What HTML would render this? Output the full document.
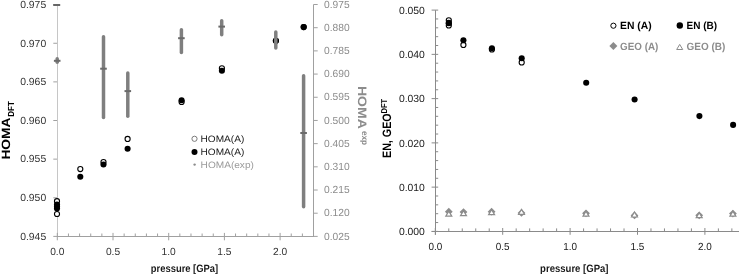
<!DOCTYPE html>
<html><head><meta charset="utf-8"><style>
html,body{margin:0;padding:0;background:#fff;}
body{width:739px;height:274px;overflow:hidden;}
svg{display:block;font-family:"Liberation Sans", sans-serif;filter:grayscale(1);text-rendering:geometricPrecision;}
</style></head><body>
<svg width="739" height="274" viewBox="0 0 739 274">
<rect width="739" height="274" fill="#fff"/>
<line x1="57.50" y1="4.50" x2="57.50" y2="236.50" stroke="#c6c6c6" stroke-width="1" stroke-linecap="butt"/>
<line x1="313.50" y1="4.50" x2="313.50" y2="236.50" stroke="#a0a0a0" stroke-width="1" stroke-linecap="butt"/>
<line x1="57.00" y1="236.50" x2="314.00" y2="236.50" stroke="#a0a0a0" stroke-width="1" stroke-linecap="butt"/>
<line x1="53.30" y1="236.40" x2="57.00" y2="236.40" stroke="#a0a0a0" stroke-width="1" stroke-linecap="butt"/>
<text x="46.20" y="239.70" font-size="10.3" fill="#333333" text-anchor="end" textLength="26.00" lengthAdjust="spacingAndGlyphs">0.945</text>
<line x1="53.30" y1="197.77" x2="57.00" y2="197.77" stroke="#a0a0a0" stroke-width="1" stroke-linecap="butt"/>
<text x="46.20" y="201.07" font-size="10.3" fill="#333333" text-anchor="end" textLength="26.00" lengthAdjust="spacingAndGlyphs">0.950</text>
<line x1="53.30" y1="159.14" x2="57.00" y2="159.14" stroke="#a0a0a0" stroke-width="1" stroke-linecap="butt"/>
<text x="46.20" y="162.44" font-size="10.3" fill="#333333" text-anchor="end" textLength="26.00" lengthAdjust="spacingAndGlyphs">0.955</text>
<line x1="53.30" y1="120.51" x2="57.00" y2="120.51" stroke="#a0a0a0" stroke-width="1" stroke-linecap="butt"/>
<text x="46.20" y="123.81" font-size="10.3" fill="#333333" text-anchor="end" textLength="26.00" lengthAdjust="spacingAndGlyphs">0.960</text>
<line x1="53.30" y1="81.88" x2="57.00" y2="81.88" stroke="#a0a0a0" stroke-width="1" stroke-linecap="butt"/>
<text x="46.20" y="85.18" font-size="10.3" fill="#333333" text-anchor="end" textLength="26.00" lengthAdjust="spacingAndGlyphs">0.965</text>
<line x1="53.30" y1="43.25" x2="57.00" y2="43.25" stroke="#a0a0a0" stroke-width="1" stroke-linecap="butt"/>
<text x="46.20" y="46.55" font-size="10.3" fill="#333333" text-anchor="end" textLength="26.00" lengthAdjust="spacingAndGlyphs">0.970</text>
<line x1="53.30" y1="4.62" x2="57.00" y2="4.62" stroke="#a0a0a0" stroke-width="1" stroke-linecap="butt"/>
<text x="46.20" y="7.92" font-size="10.3" fill="#333333" text-anchor="end" textLength="26.00" lengthAdjust="spacingAndGlyphs">0.975</text>
<line x1="313.50" y1="236.40" x2="317.70" y2="236.40" stroke="#a0a0a0" stroke-width="1" stroke-linecap="butt"/>
<text x="324.10" y="239.60" font-size="10.3" fill="#8c8c8c" text-anchor="start" textLength="25.60" lengthAdjust="spacingAndGlyphs">0.025</text>
<line x1="313.50" y1="213.21" x2="317.70" y2="213.21" stroke="#a0a0a0" stroke-width="1" stroke-linecap="butt"/>
<text x="324.10" y="216.41" font-size="10.3" fill="#8c8c8c" text-anchor="start" textLength="25.60" lengthAdjust="spacingAndGlyphs">0.120</text>
<line x1="313.50" y1="190.02" x2="317.70" y2="190.02" stroke="#a0a0a0" stroke-width="1" stroke-linecap="butt"/>
<text x="324.10" y="193.22" font-size="10.3" fill="#8c8c8c" text-anchor="start" textLength="25.60" lengthAdjust="spacingAndGlyphs">0.215</text>
<line x1="313.50" y1="166.83" x2="317.70" y2="166.83" stroke="#a0a0a0" stroke-width="1" stroke-linecap="butt"/>
<text x="324.10" y="170.03" font-size="10.3" fill="#8c8c8c" text-anchor="start" textLength="25.60" lengthAdjust="spacingAndGlyphs">0.310</text>
<line x1="313.50" y1="143.64" x2="317.70" y2="143.64" stroke="#a0a0a0" stroke-width="1" stroke-linecap="butt"/>
<text x="324.10" y="146.84" font-size="10.3" fill="#8c8c8c" text-anchor="start" textLength="25.60" lengthAdjust="spacingAndGlyphs">0.405</text>
<line x1="313.50" y1="120.45" x2="317.70" y2="120.45" stroke="#a0a0a0" stroke-width="1" stroke-linecap="butt"/>
<text x="324.10" y="123.65" font-size="10.3" fill="#8c8c8c" text-anchor="start" textLength="25.60" lengthAdjust="spacingAndGlyphs">0.500</text>
<line x1="313.50" y1="97.26" x2="317.70" y2="97.26" stroke="#a0a0a0" stroke-width="1" stroke-linecap="butt"/>
<text x="324.10" y="100.46" font-size="10.3" fill="#8c8c8c" text-anchor="start" textLength="25.60" lengthAdjust="spacingAndGlyphs">0.595</text>
<line x1="313.50" y1="74.07" x2="317.70" y2="74.07" stroke="#a0a0a0" stroke-width="1" stroke-linecap="butt"/>
<text x="324.10" y="77.27" font-size="10.3" fill="#8c8c8c" text-anchor="start" textLength="25.60" lengthAdjust="spacingAndGlyphs">0.690</text>
<line x1="313.50" y1="50.88" x2="317.70" y2="50.88" stroke="#a0a0a0" stroke-width="1" stroke-linecap="butt"/>
<text x="324.10" y="54.08" font-size="10.3" fill="#8c8c8c" text-anchor="start" textLength="25.60" lengthAdjust="spacingAndGlyphs">0.785</text>
<line x1="313.50" y1="27.69" x2="317.70" y2="27.69" stroke="#a0a0a0" stroke-width="1" stroke-linecap="butt"/>
<text x="324.10" y="30.89" font-size="10.3" fill="#8c8c8c" text-anchor="start" textLength="25.60" lengthAdjust="spacingAndGlyphs">0.880</text>
<line x1="313.50" y1="4.50" x2="317.70" y2="4.50" stroke="#a0a0a0" stroke-width="1" stroke-linecap="butt"/>
<text x="324.10" y="7.70" font-size="10.3" fill="#8c8c8c" text-anchor="start" textLength="25.60" lengthAdjust="spacingAndGlyphs">0.975</text>
<line x1="57.30" y1="232.90" x2="57.30" y2="240.30" stroke="#a0a0a0" stroke-width="1" stroke-linecap="butt"/>
<text x="57.30" y="254.70" font-size="10.3" fill="#333333" text-anchor="middle" textLength="14.20" lengthAdjust="spacingAndGlyphs">0.0</text>
<line x1="68.44" y1="233.50" x2="68.44" y2="236.50" stroke="#a0a0a0" stroke-width="1" stroke-linecap="butt"/>
<line x1="79.58" y1="233.50" x2="79.58" y2="236.50" stroke="#a0a0a0" stroke-width="1" stroke-linecap="butt"/>
<line x1="90.72" y1="233.50" x2="90.72" y2="236.50" stroke="#a0a0a0" stroke-width="1" stroke-linecap="butt"/>
<line x1="101.86" y1="233.50" x2="101.86" y2="236.50" stroke="#a0a0a0" stroke-width="1" stroke-linecap="butt"/>
<line x1="113.00" y1="232.90" x2="113.00" y2="240.30" stroke="#a0a0a0" stroke-width="1" stroke-linecap="butt"/>
<text x="113.00" y="254.70" font-size="10.3" fill="#333333" text-anchor="middle" textLength="14.20" lengthAdjust="spacingAndGlyphs">0.5</text>
<line x1="124.14" y1="233.50" x2="124.14" y2="236.50" stroke="#a0a0a0" stroke-width="1" stroke-linecap="butt"/>
<line x1="135.28" y1="233.50" x2="135.28" y2="236.50" stroke="#a0a0a0" stroke-width="1" stroke-linecap="butt"/>
<line x1="146.42" y1="233.50" x2="146.42" y2="236.50" stroke="#a0a0a0" stroke-width="1" stroke-linecap="butt"/>
<line x1="157.56" y1="233.50" x2="157.56" y2="236.50" stroke="#a0a0a0" stroke-width="1" stroke-linecap="butt"/>
<line x1="168.70" y1="232.90" x2="168.70" y2="240.30" stroke="#a0a0a0" stroke-width="1" stroke-linecap="butt"/>
<text x="168.70" y="254.70" font-size="10.3" fill="#333333" text-anchor="middle" textLength="14.20" lengthAdjust="spacingAndGlyphs">1.0</text>
<line x1="179.84" y1="233.50" x2="179.84" y2="236.50" stroke="#a0a0a0" stroke-width="1" stroke-linecap="butt"/>
<line x1="190.98" y1="233.50" x2="190.98" y2="236.50" stroke="#a0a0a0" stroke-width="1" stroke-linecap="butt"/>
<line x1="202.12" y1="233.50" x2="202.12" y2="236.50" stroke="#a0a0a0" stroke-width="1" stroke-linecap="butt"/>
<line x1="213.26" y1="233.50" x2="213.26" y2="236.50" stroke="#a0a0a0" stroke-width="1" stroke-linecap="butt"/>
<line x1="224.40" y1="232.90" x2="224.40" y2="240.30" stroke="#a0a0a0" stroke-width="1" stroke-linecap="butt"/>
<text x="224.40" y="254.70" font-size="10.3" fill="#333333" text-anchor="middle" textLength="14.20" lengthAdjust="spacingAndGlyphs">1.5</text>
<line x1="235.54" y1="233.50" x2="235.54" y2="236.50" stroke="#a0a0a0" stroke-width="1" stroke-linecap="butt"/>
<line x1="246.68" y1="233.50" x2="246.68" y2="236.50" stroke="#a0a0a0" stroke-width="1" stroke-linecap="butt"/>
<line x1="257.82" y1="233.50" x2="257.82" y2="236.50" stroke="#a0a0a0" stroke-width="1" stroke-linecap="butt"/>
<line x1="268.96" y1="233.50" x2="268.96" y2="236.50" stroke="#a0a0a0" stroke-width="1" stroke-linecap="butt"/>
<line x1="280.10" y1="232.90" x2="280.10" y2="240.30" stroke="#a0a0a0" stroke-width="1" stroke-linecap="butt"/>
<text x="280.10" y="254.70" font-size="10.3" fill="#333333" text-anchor="middle" textLength="14.20" lengthAdjust="spacingAndGlyphs">2.0</text>
<line x1="291.24" y1="233.50" x2="291.24" y2="236.50" stroke="#a0a0a0" stroke-width="1" stroke-linecap="butt"/>
<line x1="302.38" y1="233.50" x2="302.38" y2="236.50" stroke="#a0a0a0" stroke-width="1" stroke-linecap="butt"/>
<line x1="313.52" y1="233.50" x2="313.52" y2="236.50" stroke="#a0a0a0" stroke-width="1" stroke-linecap="butt"/>
<circle cx="57.0" cy="201.2" r="2.55" fill="#fff" stroke="#000" stroke-width="1.1"/>
<circle cx="57.0" cy="214.0" r="2.55" fill="#fff" stroke="#000" stroke-width="1.1"/>
<circle cx="80.3" cy="169.1" r="2.55" fill="#fff" stroke="#000" stroke-width="1.1"/>
<circle cx="103.5" cy="162.0" r="2.55" fill="#fff" stroke="#000" stroke-width="1.1"/>
<circle cx="127.6" cy="138.9" r="2.55" fill="#fff" stroke="#000" stroke-width="1.1"/>
<circle cx="181.6" cy="102.0" r="2.55" fill="#fff" stroke="#000" stroke-width="1.1"/>
<circle cx="221.9" cy="68.3" r="2.55" fill="#fff" stroke="#000" stroke-width="1.1"/>
<circle cx="275.9" cy="40.8" r="2.55" fill="#fff" stroke="#000" stroke-width="1.1"/>
<circle cx="303.7" cy="27.1" r="2.55" fill="#fff" stroke="#000" stroke-width="1.1"/>
<circle cx="57.0" cy="204.5" r="3.05" fill="#000"/>
<circle cx="57.0" cy="206.5" r="3.05" fill="#000"/>
<circle cx="57.0" cy="208.5" r="3.05" fill="#000"/>
<circle cx="80.3" cy="176.7" r="3.05" fill="#000"/>
<circle cx="103.5" cy="164.5" r="3.05" fill="#000"/>
<circle cx="127.6" cy="148.8" r="3.05" fill="#000"/>
<circle cx="181.6" cy="100.3" r="3.05" fill="#000"/>
<circle cx="221.9" cy="70.8" r="3.05" fill="#000"/>
<circle cx="275.9" cy="40.8" r="3.05" fill="#000"/>
<circle cx="303.7" cy="27.1" r="3.05" fill="#000"/>
<line x1="57.20" y1="58.75" x2="57.20" y2="62.25" stroke="#7f7f7f" stroke-width="3.5" stroke-linecap="round"/>
<line x1="53.90" y1="60.80" x2="60.50" y2="60.80" stroke="#6a6a6a" stroke-width="2" stroke-linecap="butt"/>
<line x1="103.50" y1="36.75" x2="103.50" y2="117.45" stroke="#7f7f7f" stroke-width="3.5" stroke-linecap="round"/>
<line x1="100.20" y1="68.70" x2="106.80" y2="68.70" stroke="#6a6a6a" stroke-width="2" stroke-linecap="butt"/>
<line x1="127.80" y1="73.05" x2="127.80" y2="116.15" stroke="#7f7f7f" stroke-width="3.5" stroke-linecap="round"/>
<line x1="124.50" y1="91.10" x2="131.10" y2="91.10" stroke="#6a6a6a" stroke-width="2" stroke-linecap="butt"/>
<line x1="181.40" y1="29.75" x2="181.40" y2="52.55" stroke="#7f7f7f" stroke-width="3.5" stroke-linecap="round"/>
<line x1="178.10" y1="38.20" x2="184.70" y2="38.20" stroke="#6a6a6a" stroke-width="2" stroke-linecap="butt"/>
<line x1="221.70" y1="20.65" x2="221.70" y2="34.65" stroke="#7f7f7f" stroke-width="3.5" stroke-linecap="round"/>
<line x1="218.40" y1="26.60" x2="225.00" y2="26.60" stroke="#6a6a6a" stroke-width="2" stroke-linecap="butt"/>
<line x1="275.80" y1="31.95" x2="275.80" y2="48.05" stroke="#7f7f7f" stroke-width="3.5" stroke-linecap="round"/>
<line x1="303.60" y1="75.85" x2="303.60" y2="206.75" stroke="#7f7f7f" stroke-width="3.5" stroke-linecap="round"/>
<line x1="300.30" y1="133.00" x2="306.90" y2="133.00" stroke="#6a6a6a" stroke-width="2" stroke-linecap="butt"/>
<line x1="53.20" y1="5.00" x2="60.20" y2="5.00" stroke="#666" stroke-width="2" stroke-linecap="butt"/>
<circle cx="194.5" cy="138.8" r="2.6" fill="#fff" stroke="#7a7a7a" stroke-width="1"/>
<text x="200.60" y="142.20" font-size="9.3" fill="#1a1a1a" text-anchor="start" textLength="43.70" lengthAdjust="spacingAndGlyphs">HOMA(A)</text>
<circle cx="194.5" cy="151.9" r="3.0" fill="#000"/>
<text x="200.60" y="155.40" font-size="9.3" fill="#1a1a1a" text-anchor="start" textLength="43.70" lengthAdjust="spacingAndGlyphs">HOMA(A)</text>
<circle cx="194.6" cy="164.6" r="1.2" fill="#8c8c8c"/>
<text x="200.60" y="168.00" font-size="9.3" fill="#9a9a9a" text-anchor="start" textLength="53.30" lengthAdjust="spacingAndGlyphs">HOMA(exp)</text>
<text transform="translate(9.8,159.6) rotate(-90)" font-size="12" font-weight="bold" fill="#000"><tspan textLength="42.2" lengthAdjust="spacingAndGlyphs">HOMA</tspan></text>
<text transform="translate(13.7,116.8) rotate(-90)" font-size="8.8" font-weight="bold" fill="#000" textLength="15.6" lengthAdjust="spacingAndGlyphs">DFT</text>
<text transform="translate(357.6,85.9) rotate(90)" font-size="12.2" font-weight="bold" fill="#8c8c8c" textLength="43.0" lengthAdjust="spacingAndGlyphs">HOMA</text>
<text transform="translate(362.4,130.9) rotate(90)" font-size="8.5" font-weight="bold" fill="#8c8c8c" textLength="14.2" lengthAdjust="spacingAndGlyphs">exp</text>
<text x="150.80" y="271.60" font-size="10.6" fill="#1a1a1a" text-anchor="start" font-weight="bold" textLength="67.40" lengthAdjust="spacingAndGlyphs">pressure [GPa]</text>
<line x1="435.50" y1="10.20" x2="435.50" y2="234.80" stroke="#8a8a8a" stroke-width="1" stroke-linecap="butt"/>
<line x1="431.60" y1="231.50" x2="739.00" y2="231.50" stroke="#8a8a8a" stroke-width="1" stroke-linecap="butt"/>
<line x1="431.60" y1="231.40" x2="438.20" y2="231.40" stroke="#8a8a8a" stroke-width="1" stroke-linecap="butt"/>
<text x="424.90" y="235.10" font-size="10.4" fill="#1a1a1a" text-anchor="end" textLength="26.00" lengthAdjust="spacingAndGlyphs">0.000</text>
<line x1="431.60" y1="187.14" x2="438.20" y2="187.14" stroke="#8a8a8a" stroke-width="1" stroke-linecap="butt"/>
<text x="424.90" y="190.84" font-size="10.4" fill="#1a1a1a" text-anchor="end" textLength="26.00" lengthAdjust="spacingAndGlyphs">0.010</text>
<line x1="431.60" y1="142.88" x2="438.20" y2="142.88" stroke="#8a8a8a" stroke-width="1" stroke-linecap="butt"/>
<text x="424.90" y="146.58" font-size="10.4" fill="#1a1a1a" text-anchor="end" textLength="26.00" lengthAdjust="spacingAndGlyphs">0.020</text>
<line x1="431.60" y1="98.62" x2="438.20" y2="98.62" stroke="#8a8a8a" stroke-width="1" stroke-linecap="butt"/>
<text x="424.90" y="102.32" font-size="10.4" fill="#1a1a1a" text-anchor="end" textLength="26.00" lengthAdjust="spacingAndGlyphs">0.030</text>
<line x1="431.60" y1="54.36" x2="438.20" y2="54.36" stroke="#8a8a8a" stroke-width="1" stroke-linecap="butt"/>
<text x="424.90" y="58.06" font-size="10.4" fill="#1a1a1a" text-anchor="end" textLength="26.00" lengthAdjust="spacingAndGlyphs">0.040</text>
<line x1="431.60" y1="10.10" x2="438.20" y2="10.10" stroke="#8a8a8a" stroke-width="1" stroke-linecap="butt"/>
<text x="424.90" y="13.80" font-size="10.4" fill="#1a1a1a" text-anchor="end" textLength="26.00" lengthAdjust="spacingAndGlyphs">0.050</text>
<line x1="435.50" y1="222.55" x2="438.20" y2="222.55" stroke="#8a8a8a" stroke-width="1" stroke-linecap="butt"/>
<line x1="435.50" y1="213.70" x2="438.20" y2="213.70" stroke="#8a8a8a" stroke-width="1" stroke-linecap="butt"/>
<line x1="435.50" y1="204.84" x2="438.20" y2="204.84" stroke="#8a8a8a" stroke-width="1" stroke-linecap="butt"/>
<line x1="435.50" y1="195.99" x2="438.20" y2="195.99" stroke="#8a8a8a" stroke-width="1" stroke-linecap="butt"/>
<line x1="435.50" y1="178.29" x2="438.20" y2="178.29" stroke="#8a8a8a" stroke-width="1" stroke-linecap="butt"/>
<line x1="435.50" y1="169.44" x2="438.20" y2="169.44" stroke="#8a8a8a" stroke-width="1" stroke-linecap="butt"/>
<line x1="435.50" y1="160.58" x2="438.20" y2="160.58" stroke="#8a8a8a" stroke-width="1" stroke-linecap="butt"/>
<line x1="435.50" y1="151.73" x2="438.20" y2="151.73" stroke="#8a8a8a" stroke-width="1" stroke-linecap="butt"/>
<line x1="435.50" y1="134.03" x2="438.20" y2="134.03" stroke="#8a8a8a" stroke-width="1" stroke-linecap="butt"/>
<line x1="435.50" y1="125.18" x2="438.20" y2="125.18" stroke="#8a8a8a" stroke-width="1" stroke-linecap="butt"/>
<line x1="435.50" y1="116.32" x2="438.20" y2="116.32" stroke="#8a8a8a" stroke-width="1" stroke-linecap="butt"/>
<line x1="435.50" y1="107.47" x2="438.20" y2="107.47" stroke="#8a8a8a" stroke-width="1" stroke-linecap="butt"/>
<line x1="435.50" y1="89.77" x2="438.20" y2="89.77" stroke="#8a8a8a" stroke-width="1" stroke-linecap="butt"/>
<line x1="435.50" y1="80.92" x2="438.20" y2="80.92" stroke="#8a8a8a" stroke-width="1" stroke-linecap="butt"/>
<line x1="435.50" y1="72.06" x2="438.20" y2="72.06" stroke="#8a8a8a" stroke-width="1" stroke-linecap="butt"/>
<line x1="435.50" y1="63.21" x2="438.20" y2="63.21" stroke="#8a8a8a" stroke-width="1" stroke-linecap="butt"/>
<line x1="435.50" y1="45.51" x2="438.20" y2="45.51" stroke="#8a8a8a" stroke-width="1" stroke-linecap="butt"/>
<line x1="435.50" y1="36.66" x2="438.20" y2="36.66" stroke="#8a8a8a" stroke-width="1" stroke-linecap="butt"/>
<line x1="435.50" y1="27.80" x2="438.20" y2="27.80" stroke="#8a8a8a" stroke-width="1" stroke-linecap="butt"/>
<line x1="435.50" y1="18.95" x2="438.20" y2="18.95" stroke="#8a8a8a" stroke-width="1" stroke-linecap="butt"/>
<line x1="435.30" y1="228.00" x2="435.30" y2="234.80" stroke="#8a8a8a" stroke-width="1" stroke-linecap="butt"/>
<text x="435.30" y="249.80" font-size="10.3" fill="#1a1a1a" text-anchor="middle" textLength="13.80" lengthAdjust="spacingAndGlyphs">0.0</text>
<line x1="448.78" y1="228.40" x2="448.78" y2="231.50" stroke="#8a8a8a" stroke-width="1" stroke-linecap="butt"/>
<line x1="462.26" y1="228.40" x2="462.26" y2="231.50" stroke="#8a8a8a" stroke-width="1" stroke-linecap="butt"/>
<line x1="475.74" y1="228.40" x2="475.74" y2="231.50" stroke="#8a8a8a" stroke-width="1" stroke-linecap="butt"/>
<line x1="489.22" y1="228.40" x2="489.22" y2="231.50" stroke="#8a8a8a" stroke-width="1" stroke-linecap="butt"/>
<line x1="502.70" y1="228.00" x2="502.70" y2="234.80" stroke="#8a8a8a" stroke-width="1" stroke-linecap="butt"/>
<text x="502.70" y="249.80" font-size="10.3" fill="#1a1a1a" text-anchor="middle" textLength="13.80" lengthAdjust="spacingAndGlyphs">0.5</text>
<line x1="516.18" y1="228.40" x2="516.18" y2="231.50" stroke="#8a8a8a" stroke-width="1" stroke-linecap="butt"/>
<line x1="529.66" y1="228.40" x2="529.66" y2="231.50" stroke="#8a8a8a" stroke-width="1" stroke-linecap="butt"/>
<line x1="543.14" y1="228.40" x2="543.14" y2="231.50" stroke="#8a8a8a" stroke-width="1" stroke-linecap="butt"/>
<line x1="556.62" y1="228.40" x2="556.62" y2="231.50" stroke="#8a8a8a" stroke-width="1" stroke-linecap="butt"/>
<line x1="570.10" y1="228.00" x2="570.10" y2="234.80" stroke="#8a8a8a" stroke-width="1" stroke-linecap="butt"/>
<text x="570.10" y="249.80" font-size="10.3" fill="#1a1a1a" text-anchor="middle" textLength="13.80" lengthAdjust="spacingAndGlyphs">1.0</text>
<line x1="583.58" y1="228.40" x2="583.58" y2="231.50" stroke="#8a8a8a" stroke-width="1" stroke-linecap="butt"/>
<line x1="597.06" y1="228.40" x2="597.06" y2="231.50" stroke="#8a8a8a" stroke-width="1" stroke-linecap="butt"/>
<line x1="610.54" y1="228.40" x2="610.54" y2="231.50" stroke="#8a8a8a" stroke-width="1" stroke-linecap="butt"/>
<line x1="624.02" y1="228.40" x2="624.02" y2="231.50" stroke="#8a8a8a" stroke-width="1" stroke-linecap="butt"/>
<line x1="637.50" y1="228.00" x2="637.50" y2="234.80" stroke="#8a8a8a" stroke-width="1" stroke-linecap="butt"/>
<text x="637.50" y="249.80" font-size="10.3" fill="#1a1a1a" text-anchor="middle" textLength="13.80" lengthAdjust="spacingAndGlyphs">1.5</text>
<line x1="650.98" y1="228.40" x2="650.98" y2="231.50" stroke="#8a8a8a" stroke-width="1" stroke-linecap="butt"/>
<line x1="664.46" y1="228.40" x2="664.46" y2="231.50" stroke="#8a8a8a" stroke-width="1" stroke-linecap="butt"/>
<line x1="677.94" y1="228.40" x2="677.94" y2="231.50" stroke="#8a8a8a" stroke-width="1" stroke-linecap="butt"/>
<line x1="691.42" y1="228.40" x2="691.42" y2="231.50" stroke="#8a8a8a" stroke-width="1" stroke-linecap="butt"/>
<line x1="704.90" y1="228.00" x2="704.90" y2="234.80" stroke="#8a8a8a" stroke-width="1" stroke-linecap="butt"/>
<text x="704.90" y="249.80" font-size="10.3" fill="#1a1a1a" text-anchor="middle" textLength="13.80" lengthAdjust="spacingAndGlyphs">2.0</text>
<line x1="718.38" y1="228.40" x2="718.38" y2="231.50" stroke="#8a8a8a" stroke-width="1" stroke-linecap="butt"/>
<line x1="731.86" y1="228.40" x2="731.86" y2="231.50" stroke="#8a8a8a" stroke-width="1" stroke-linecap="butt"/>
<circle cx="448.8" cy="20.3" r="2.55" fill="#fff" stroke="#000" stroke-width="1.1"/>
<circle cx="448.8" cy="25.5" r="2.55" fill="#fff" stroke="#000" stroke-width="1.1"/>
<circle cx="463.4" cy="44.9" r="2.55" fill="#fff" stroke="#000" stroke-width="1.1"/>
<circle cx="491.9" cy="49.5" r="2.55" fill="#fff" stroke="#000" stroke-width="1.1"/>
<circle cx="521.7" cy="62.4" r="2.55" fill="#fff" stroke="#000" stroke-width="1.1"/>
<circle cx="448.8" cy="22.9" r="3.05" fill="#000"/>
<circle cx="448.8" cy="23.3" r="3.05" fill="#000"/>
<circle cx="463.4" cy="40.3" r="3.05" fill="#000"/>
<circle cx="491.9" cy="48.3" r="3.05" fill="#000"/>
<circle cx="521.7" cy="58.2" r="3.05" fill="#000"/>
<circle cx="586.2" cy="82.8" r="3.05" fill="#000"/>
<circle cx="634.6" cy="99.5" r="3.05" fill="#000"/>
<circle cx="699.4" cy="116.1" r="3.05" fill="#000"/>
<circle cx="733.1" cy="124.9" r="3.05" fill="#000"/>
<path d="M448.80,207.80 L452.70,211.70 L448.80,215.60 L444.90,211.70 Z" fill="#8c8c8c"/>
<path d="M463.50,208.20 L467.40,212.10 L463.50,216.00 L459.60,212.10 Z" fill="#8c8c8c"/>
<path d="M491.60,207.80 L495.50,211.70 L491.60,215.60 L487.70,211.70 Z" fill="#8c8c8c"/>
<path d="M521.50,209.00 L525.40,212.90 L521.50,216.80 L517.60,212.90 Z" fill="#8c8c8c"/>
<path d="M586.00,209.40 L589.90,213.30 L586.00,217.20 L582.10,213.30 Z" fill="#8c8c8c"/>
<path d="M634.50,211.50 L638.40,215.40 L634.50,219.30 L630.60,215.40 Z" fill="#8c8c8c"/>
<path d="M699.20,211.40 L703.10,215.30 L699.20,219.20 L695.30,215.30 Z" fill="#8c8c8c"/>
<path d="M732.90,209.70 L736.80,213.60 L732.90,217.50 L729.00,213.60 Z" fill="#8c8c8c"/>
<path d="M448.80,211.14 L451.78,216.10 L445.82,216.10 Z" fill="#fff" stroke="#8c8c8c" stroke-width="1.2" stroke-linejoin="miter"/>
<path d="M463.50,210.74 L466.48,215.70 L460.52,215.70 Z" fill="#fff" stroke="#8c8c8c" stroke-width="1.2" stroke-linejoin="miter"/>
<path d="M491.60,209.74 L494.58,214.70 L488.62,214.70 Z" fill="#fff" stroke="#8c8c8c" stroke-width="1.2" stroke-linejoin="miter"/>
<path d="M521.50,209.34 L524.48,214.30 L518.52,214.30 Z" fill="#fff" stroke="#8c8c8c" stroke-width="1.2" stroke-linejoin="miter"/>
<path d="M586.00,211.24 L588.98,216.20 L583.02,216.20 Z" fill="#fff" stroke="#8c8c8c" stroke-width="1.2" stroke-linejoin="miter"/>
<path d="M634.50,212.04 L637.48,217.00 L631.52,217.00 Z" fill="#fff" stroke="#8c8c8c" stroke-width="1.2" stroke-linejoin="miter"/>
<path d="M699.20,212.74 L702.18,217.70 L696.22,217.70 Z" fill="#fff" stroke="#8c8c8c" stroke-width="1.2" stroke-linejoin="miter"/>
<path d="M732.90,211.24 L735.88,216.20 L729.92,216.20 Z" fill="#fff" stroke="#8c8c8c" stroke-width="1.2" stroke-linejoin="miter"/>
<circle cx="613.4" cy="25.7" r="2.6" fill="#fff" stroke="#000" stroke-width="1"/>
<text x="620.10" y="29.00" font-size="10.5" fill="#000" text-anchor="start" font-weight="bold" textLength="31.60" lengthAdjust="spacingAndGlyphs">EN (A)</text>
<circle cx="679.8" cy="25.5" r="3.2" fill="#000"/>
<text x="686.60" y="29.00" font-size="10.5" fill="#000" text-anchor="start" font-weight="bold" textLength="30.60" lengthAdjust="spacingAndGlyphs">EN (B)</text>
<path d="M613.40,42.00 L617.40,46.00 L613.40,50.00 L609.40,46.00 Z" fill="#8c8c8c"/>
<text x="620.10" y="50.00" font-size="10.5" fill="#8c8c8c" text-anchor="start" font-weight="bold" textLength="38.30" lengthAdjust="spacingAndGlyphs">GEO (A)</text>
<path d="M679.70,44.43 L682.74,49.50 L676.66,49.50 Z" fill="#fff" stroke="#8c8c8c" stroke-width="1.0" stroke-linejoin="miter"/>
<text x="686.60" y="50.00" font-size="10.5" fill="#8c8c8c" text-anchor="start" font-weight="bold" textLength="38.80" lengthAdjust="spacingAndGlyphs">GEO (B)</text>
<text transform="translate(390.9,158.0) rotate(-90)" font-size="12.2" font-weight="bold" fill="#000" textLength="44.6" lengthAdjust="spacingAndGlyphs">EN, GEO</text>
<text transform="translate(387.0,113.6) rotate(-90)" font-size="8.5" font-weight="bold" fill="#000" textLength="14.8" lengthAdjust="spacingAndGlyphs">DFT</text>
<text x="540.10" y="271.60" font-size="10.6" fill="#1a1a1a" text-anchor="start" font-weight="bold" textLength="68.40" lengthAdjust="spacingAndGlyphs">pressure [GPa]</text>
</svg>
</body></html>
